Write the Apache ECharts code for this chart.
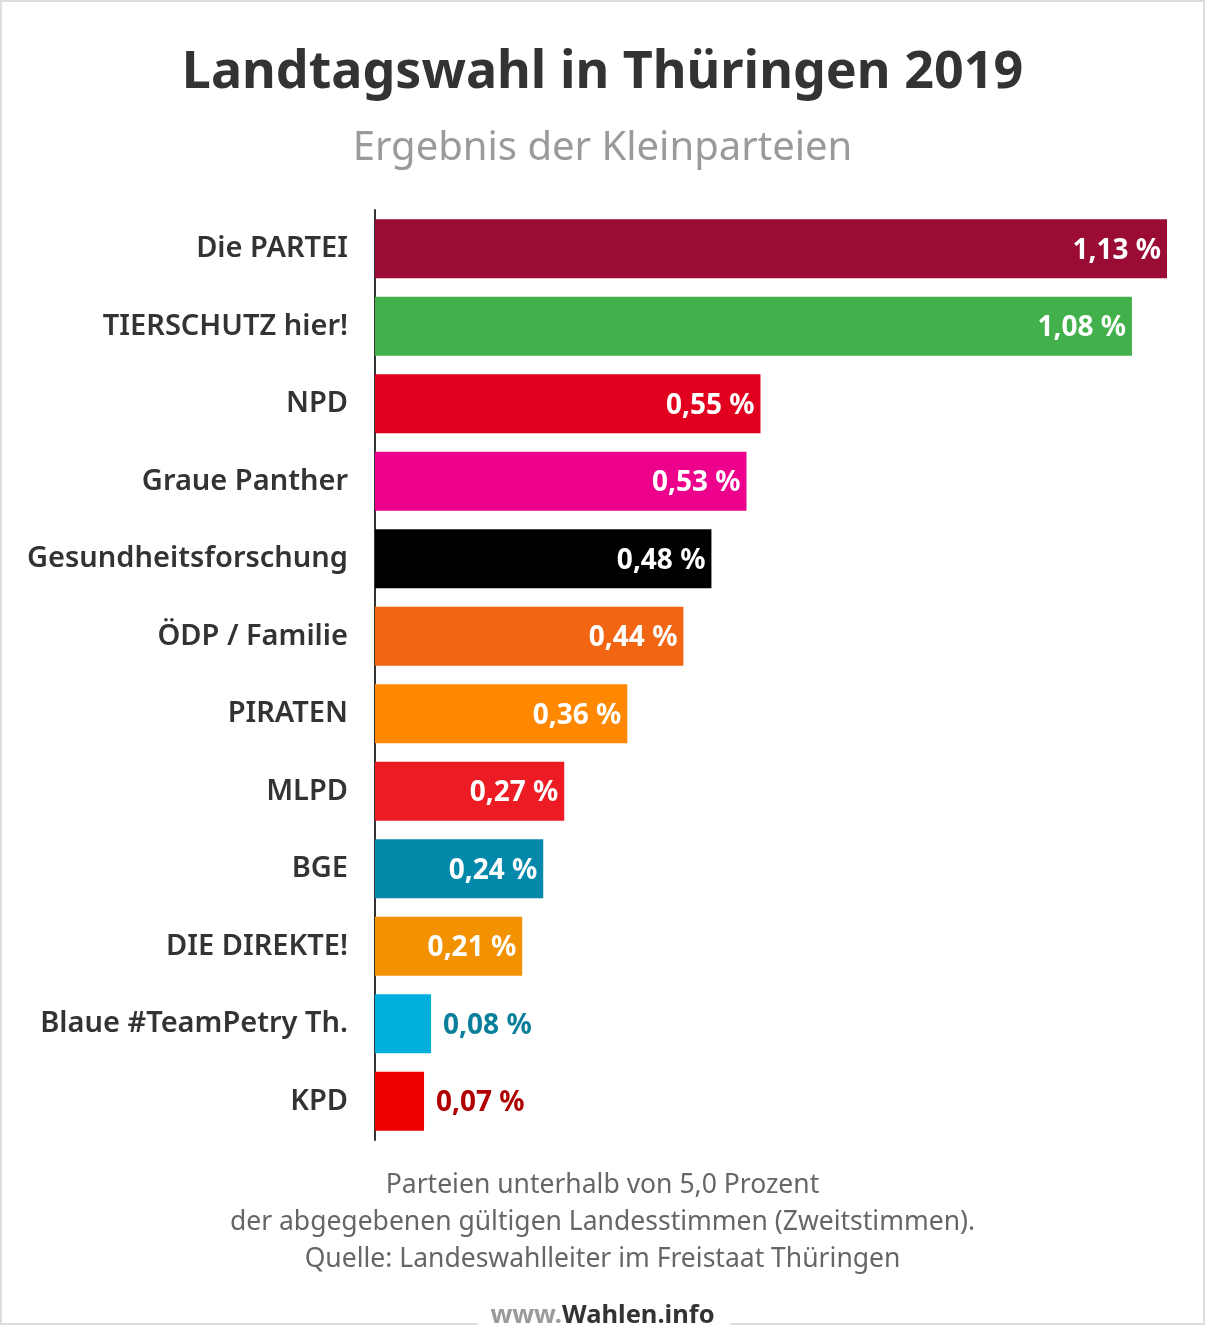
<!DOCTYPE html>
<html><head><meta charset="utf-8">
<script src="https://cdn.jsdelivr.net/npm/echarts@6/dist/echarts.min.js"></script>
<style>html,body{margin:0;padding:0;background:#fff}#c{width:1205px;height:1325px}</style>
</head><body><div id="c"></div>
<script>
const categories = ["Die PARTEI","TIERSCHUTZ hier!","NPD","Graue Panther","Gesundheitsforschung","ÖDP / Familie","PIRATEN","MLPD","BGE","DIE DIREKTE!","Blaue #TeamPetry Th.","KPD"];
const values = [1.13,1.08,0.55,0.53,0.48,0.44,0.36,0.27,0.24,0.21,0.08,0.07];
const barColors = ["#9b0c34","#43b14b","#e2001f","#ec008c","#000000","#f26513","#ff8800","#ed1c24","#0589ab","#f39200","#00afdb","#ee0000"];
const outsideLabelColors = {10:"#0a7f9a",11:"#b00000"};
const footerLines = ["Parteien unterhalb von 5,0 Prozent","der abgegebenen gültigen Landesstimmen (Zweitstimmen).","Quelle: Landeswahlleiter im Freistaat Thüringen"];

const FONT = "Noto Sans";
const chart = echarts.init(document.getElementById('c'), null, {renderer:'canvas'});
const data = values.map((v,i)=>{
  const d = {value:v, itemStyle:{color:barColors[i]}};
  if (outsideLabelColors[i]) d.label = {position:'right', distance:12, color:outsideLabelColors[i]};
  return d;
});
chart.setOption({
  animation:false,
  backgroundColor:'#fff',
  title:[
    {text:"Landtagswahl in Thüringen 2019", left:'center', top:42, textStyle:{fontFamily:FONT, fontSize:52, fontWeight:'bold', color:'#333'}},
    {text:"Ergebnis der Kleinparteien", left:'center', top:124, textStyle:{fontFamily:FONT, fontSize:40, fontWeight:'normal', color:'#9a9a9a'}}
  ],
  grid:{left:375, right:38, top:210, height:930, containLabel:false},
  xAxis:{type:'value', min:0, max:1.13, show:false},
  yAxis:{type:'category', data:categories, inverse:true,
    axisLine:{show:true, lineStyle:{color:'#333', width:2}}, axisTick:{show:false},
    axisLabel:{margin:27, fontFamily:FONT, fontSize:29, fontWeight:600, color:'#333'}},
  series:[{type:'bar', data:data, barCategoryGap:'24%',
    label:{show:true, position:'insideRight', distance:6, offset:[0,2], fontFamily:FONT, fontSize:28, fontWeight:'bold', color:'#fff',
      formatter:p=>p.value.toFixed(2).replace('.',',')+' %'}}],
  graphic:[
    {type:'rect', shape:{x:1,y:1,width:1203,height:1323}, style:{fill:'none', stroke:'#dddddd', lineWidth:2}, z:0},
    {type:'rect', shape:{x:478,y:1310,width:252,height:16}, style:{fill:'#fff'}, z:1},
    ...footerLines.map((t,i)=>({type:'text', left:'center', top:1172+i*37, style:{text:t, fontFamily:FONT, fontSize:26.5, fill:'#666'}, z:2})),
    {type:'text', left:'center', top:1303, style:{rich:{a:{fontFamily:FONT,fontSize:25.5,fontWeight:'bold',fill:'#9a9a9a'},b:{fontFamily:FONT,fontSize:25.5,fontWeight:'bold',fill:'#333'}}, text:'{a|www.}{b|Wahlen.info}'}, z:2}
  ]
});
</script></body></html>
